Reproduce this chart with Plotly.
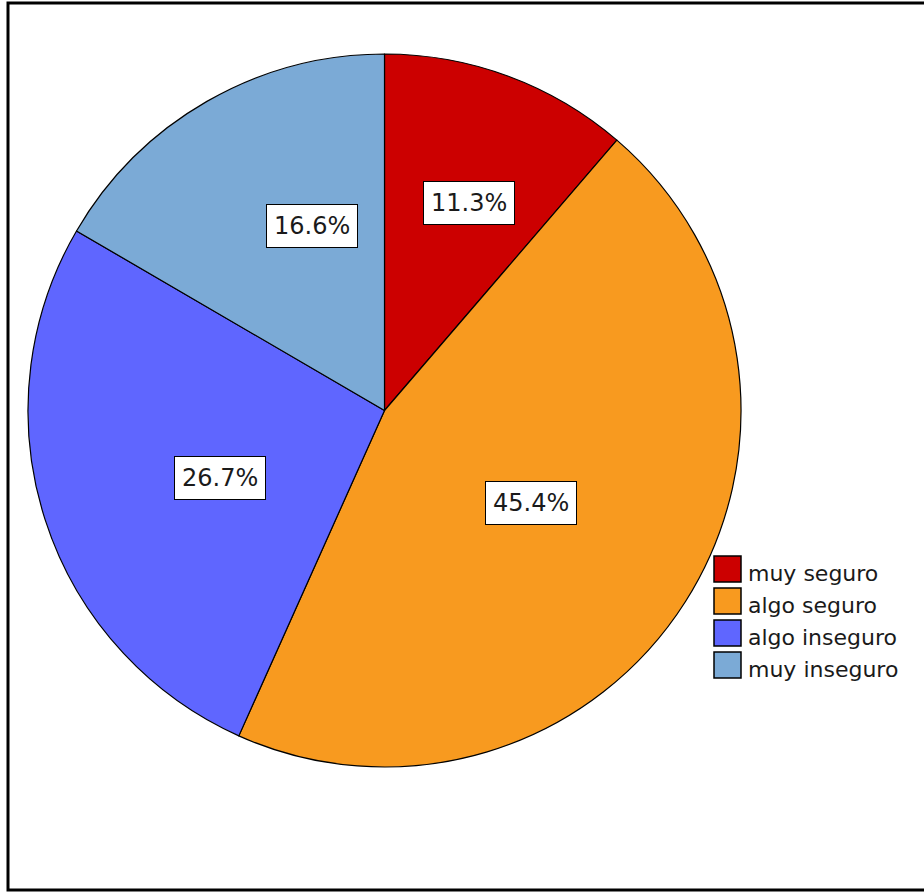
import math

import plotly.graph_objects as go

# --- data ---
categories = ["muy seguro", "algo seguro", "algo inseguro", "muy inseguro"]
percentages = [11.3, 45.4, 26.7, 16.6]
slice_colors = ["#CC0000", "#F89A1F", "#5F66FF", "#7BAAD6"]

W, H = 924, 892
CX, CY, R = 384.5, 410.5, 356.5  # pie centre / radius in pixels


def px_x(x):
    return x / W


def px_y(y):
    return 1 - y / H


fig = go.Figure(
    go.Pie(
        labels=categories,
        values=percentages,
        marker=dict(colors=slice_colors, line=dict(color="black", width=1.2)),
        sort=False,
        direction="clockwise",
        rotation=0,
        textinfo="none",
        hoverinfo="label+percent",
        showlegend=False,
        domain=dict(x=[px_x(CX - R), px_x(CX + R)], y=[px_y(CY + R), px_y(CY - R)]),
    )
)

# percentage labels in white boxes, placed near the slice centroid
total = sum(percentages)
start = 0.0
for pct in percentages:
    half = math.pi * pct / total  # half angle in radians
    mid = 2 * math.pi * start / total + half
    dist = (2 / 3) * R * math.sin(half) / half * 1.05
    lx = CX + dist * math.sin(mid)
    ly = CY - dist * math.cos(mid)
    fig.add_annotation(
        x=px_x(lx),
        y=px_y(ly),
        xref="paper",
        yref="paper",
        text=f"{pct:.1f}%",
        showarrow=False,
        font=dict(family="DejaVu Sans", size=24, color="#1a1a1a"),
        bgcolor="white",
        bordercolor="black",
        borderwidth=1,
        borderpad=7,
    )
    start += pct

# legend drawn by hand (square swatches)
for i, (name, col) in enumerate(zip(categories, slice_colors)):
    top = 556 + i * 32
    fig.add_shape(
        type="rect",
        xref="paper",
        yref="paper",
        x0=px_x(714),
        x1=px_x(741),
        y0=px_y(top + 26),
        y1=px_y(top),
        fillcolor=col,
        line=dict(color="black", width=1.5),
    )
    fig.add_annotation(
        x=px_x(746),
        y=px_y(top + 17),
        xref="paper",
        yref="paper",
        text=name,
        showarrow=False,
        xanchor="left",
        yanchor="middle",
        font=dict(family="DejaVu Sans", size=22, color="#1a1a1a"),
    )

# outer frame
fig.add_shape(
    type="rect",
    xref="paper",
    yref="paper",
    x0=px_x(8),
    x1=px_x(940),
    y0=px_y(890),
    y1=px_y(3),
    line=dict(color="black", width=3),
)

fig.update_layout(
    width=W,
    height=H,
    margin=dict(l=0, r=0, t=0, b=0),
    paper_bgcolor="white",
    plot_bgcolor="white",
)

# drop the default page margin so the figure sits at the window's corner
fig.write_html(
    "out.html",
    config={"displayModeBar": False},
    post_script="document.body.style.margin='0';document.body.style.overflow='hidden';",
)
